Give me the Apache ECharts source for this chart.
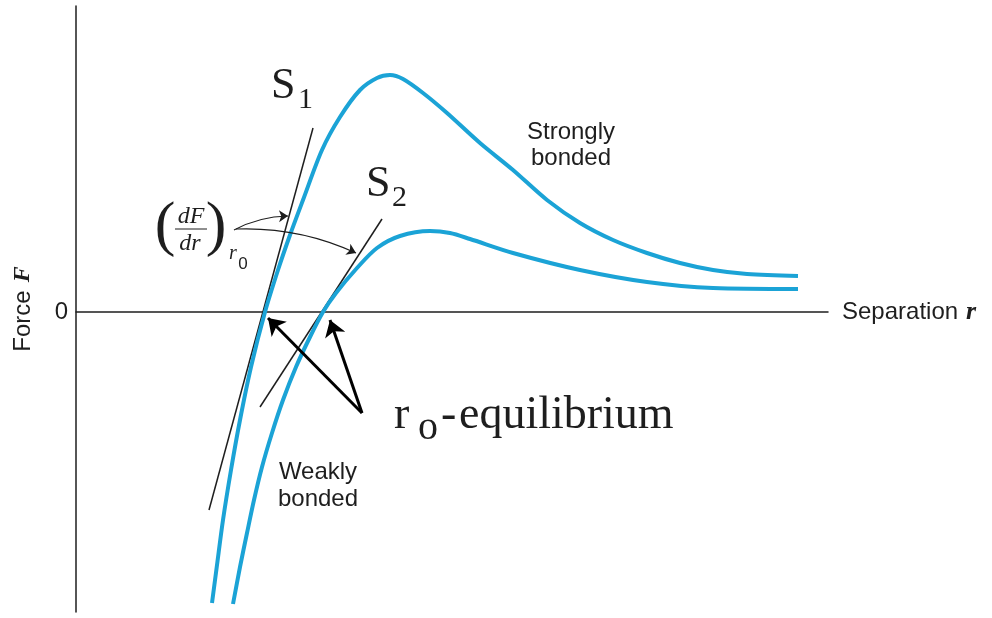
<!DOCTYPE html>
<html>
<head>
<meta charset="utf-8">
<title>Force vs separation</title>
<script src="https://cdn.jsdelivr.net/npm/echarts@6/dist/echarts.min.js"></script>
<style>
  html, body { margin: 0; padding: 0; background: #fff; }
  #chart { width: 992px; height: 618px; }
</style>
</head>
<body>
<div id="chart"></div>
<script>
// curves, arbitrary units (r to the right, F up, 0 on the axis)
const strongBonded = [
    [136, -291], [141, -253], [147, -208], [155, -158], [164, -108], [175, -55],
    [189, 0], [202, 42], [214, 77], [227, 112], [246, 162], [264, 195],
    [284, 222], [301, 234], [314, 237], [327, 233], [347, 219], [371, 199],
    [404, 169], [437, 142], [471, 112], [504, 89], [537, 72], [571, 59],
    [604, 49], [637, 42], [671, 38], [722, 36]
];
const weakBonded = [
    [157, -292], [164, -255], [171, -221], [178, -188], [186, -155], [196, -121],
    [207, -88], [220, -55], [234, -25], [247, 0], [260, 19], [281, 44],
    [301, 64], [324, 76], [354, 81], [374, 79], [394, 73], [437, 59],
    [504, 42], [571, 30], [637, 24], [722, 23]
];

// tangents at r0
const tangentS1 = [[133, -198], [237, 184]];
const tangentS2 = [[184, -95], [306, 93]];

// arrows: [from, to]
const equilibriumArrows = [
    [[286, -101], [192, -6]],
    [[286, -101], [254, -8]]
];
const slopeArrows = [
    [[158, 82], [212, 96]],
    [[160, 83], [280, 59]]
];

const X_MAX = 752;
const Y_MIN = -300;
const Y_MAX = 306;

const BLUE = '#1ba3d6';
const INK = '#1e1e1e';
const SANS = '"Liberation Sans", Arial, sans-serif';
const SERIF = '"Liberation Serif", "Times New Roman", serif';

// text helper for the graphic layer
function txt(x, y, text, font, align) {
    return {
        type: 'text',
        x: x,
        y: y,
        z: 100,
        style: {
            text: text,
            font: font,
            fill: INK,
            align: align || 'left',
            textAlign: align || 'left',
            verticalAlign: 'middle',
            textVerticalAlign: 'middle'
        }
    };
}

const chart = echarts.init(document.getElementById('chart'));

chart.setOption({
    animation: false,
    backgroundColor: '#fff',
    grid: { left: 76, right: 164, top: 6, bottom: 6, outerBoundsMode: 'none' },
    xAxis: {
        type: 'value',
        min: 0,
        max: X_MAX,
        name: '{t|Separation}{r|r}',
        nameLocation: 'end',
        nameGap: 14,
        nameTextStyle: {
            rich: {
                t: { fontFamily: SANS, fontSize: 24, color: INK },
                r: { fontFamily: SERIF, fontSize: 26, fontStyle: 'italic', fontWeight: 'bold', color: INK, padding: [0, 0, 0, 8] }
            }
        },
        axisLine: { onZero: true, lineStyle: { color: INK, width: 1.5 } },
        axisTick: { show: false },
        axisLabel: { show: false },
        splitLine: { show: false }
    },
    yAxis: {
        type: 'value',
        min: Y_MIN,
        max: Y_MAX,
        interval: 100,
        name: '{t|Force}{f|F}',
        nameLocation: 'middle',
        nameRotate: 90,
        nameGap: 41,
        nameTextStyle: {
            rich: {
                t: { fontFamily: SANS, fontSize: 24, color: INK },
                f: { fontFamily: SERIF, fontSize: 24, fontStyle: 'italic', fontWeight: 'bold', color: INK, padding: [0, 0, 0, 8] }
            }
        },
        axisLine: { show: true, onZero: false, lineStyle: { color: INK, width: 1.5 } },
        axisTick: { show: false },
        axisLabel: {
            margin: 8,
            fontFamily: SANS,
            fontSize: 24,
            color: INK,
            showMaxLabel: false,
            formatter: v => (v === 0 ? '0' : '')
        },
        splitLine: { show: false }
    },
    series: [
        {
            name: 'Tangent S1',
            type: 'line',
            data: tangentS1,
            symbol: 'none',
            lineStyle: { color: INK, width: 1.5 },
            z: 2
        },
        {
            name: 'Tangent S2',
            type: 'line',
            data: tangentS2,
            symbol: 'none',
            lineStyle: { color: INK, width: 1.5 },
            z: 2
        },
        {
            name: 'Strongly bonded',
            type: 'line',
            data: strongBonded,
            smooth: 0.3,
            symbol: 'none',
            lineStyle: { color: BLUE, width: 4 },
            z: 3
        },
        {
            name: 'Weakly bonded',
            type: 'line',
            data: weakBonded,
            smooth: 0.3,
            symbol: 'none',
            lineStyle: { color: BLUE, width: 4 },
            z: 3
        },
        {
            name: 'r0 arrows',
            type: 'lines',
            coordinateSystem: 'cartesian2d',
            data: equilibriumArrows.map(c => ({ coords: c })),
            symbol: ['none', 'arrow'],
            symbolSize: 16,
            lineStyle: { color: '#000', width: 3, opacity: 1, curveness: 0 },
            z: 4
        },
        {
            name: 'slope arrows',
            type: 'lines',
            coordinateSystem: 'cartesian2d',
            data: slopeArrows.map(c => ({ coords: c })),
            symbol: ['none', 'arrow'],
            symbolSize: 9,
            lineStyle: { color: INK, width: 1.2, opacity: 1, curveness: 0.12 },
            z: 4
        }
    ],
    graphic: [
        // S1, S2
        txt(271, 86, 'S', '44px ' + SERIF),
        txt(298, 100, '1', '30px ' + SERIF),
        txt(366, 184, 'S', '44px ' + SERIF),
        txt(392, 198, '2', '30px ' + SERIF),

        // (dF/dr) at r0
        txt(165, 228, '(', '300 62px ' + SERIF, 'center'),
        txt(191, 217, 'dF', 'italic 24px ' + SERIF, 'center'),
        {
            type: 'line',
            z: 100,
            shape: { x1: 175, y1: 229, x2: 207, y2: 229 },
            style: { stroke: INK, lineWidth: 1 }
        },
        txt(190, 244, 'dr', 'italic 24px ' + SERIF, 'center'),
        txt(216, 228, ')', '300 62px ' + SERIF, 'center'),
        txt(233, 254, 'r', 'italic 20px ' + SERIF, 'center'),
        txt(243, 264, '0', '17px ' + SANS, 'center'),

        // labels
        txt(571, 132, 'Strongly', '24px ' + SANS, 'center'),
        txt(571, 158, 'bonded', '24px ' + SANS, 'center'),
        txt(318, 472, 'Weakly', '24px ' + SANS, 'center'),
        txt(318, 499, 'bonded', '24px ' + SANS, 'center'),

        // r_o- equilibrium
        txt(394, 416, 'r', '46px ' + SERIF),
        txt(418, 428, 'o', '40px ' + SERIF),
        txt(441, 416, '-', '46px ' + SERIF),
        txt(459, 416, 'equilibrium', '46px ' + SERIF)
    ]
});

window.addEventListener('resize', () => chart.resize());
</script>
</body>
</html>
